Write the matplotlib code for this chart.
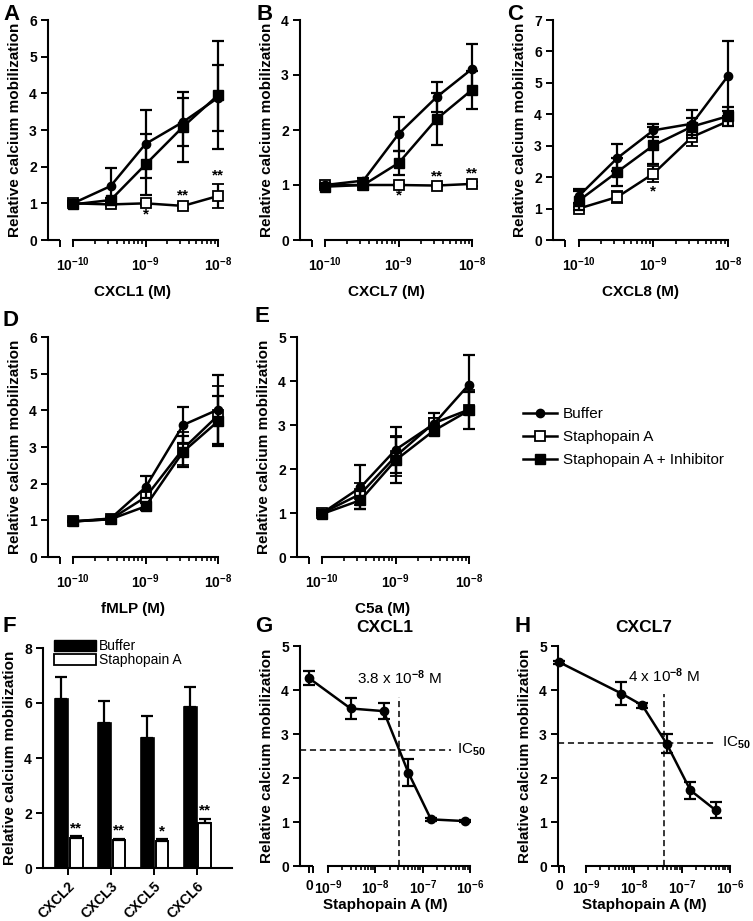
import numpy as np
import matplotlib
matplotlib.use('Agg')
import matplotlib.pyplot as plt
from matplotlib.lines import Line2D
from matplotlib.patches import Patch
from matplotlib.ticker import FixedLocator

plt.rcParams.update({
    'font.family': ['Liberation Sans', 'DejaVu Sans'],
    'font.weight': 'bold',
    'axes.labelweight': 'bold',
    'axes.titleweight': 'bold',
    'mathtext.fontset': 'custom',
    'mathtext.rm': 'Liberation Sans:bold',
    'mathtext.bf': 'Liberation Sans:bold',
    'mathtext.it': 'Liberation Sans:bold:italic',
    'mathtext.sf': 'Liberation Sans',
    'mathtext.default': 'rm',
    'axes.linewidth': 1.5,
})

# ---------------- data ----------------
conc = [1e-10, 3.3e-10, 1e-9, 3.3e-9, 1e-8]
series_names = ['Buffer', 'Staphopain A', 'Staphopain A + Inhibitor']

a_buf = [1.0, 1.47, 2.62, 3.22, 3.88]
a_buf_err = [0.05, 0.5, 0.92, 0.65, 0.9]
a_sta = [1.0, 0.97, 1.0, 0.93, 1.2]
a_sta_err = [0.03, 0.04, 0.05, 0.05, 0.33]
a_inh = [0.97, 1.09, 2.06, 3.09, 3.95]
a_inh_err = [0.03, 0.06, 0.84, 0.95, 1.48]

b_buf = [1.0, 1.08, 1.93, 2.6, 3.11]
b_buf_err = [0.02, 0.04, 0.31, 0.28, 0.46]
b_sta = [1.0, 1.0, 1.0, 0.99, 1.02]
b_sta_err = [0.02, 0.02, 0.02, 0.02, 0.03]
b_inh = [0.97, 1.0, 1.4, 2.2, 2.73]
b_inh_err = [0.02, 0.03, 0.21, 0.47, 0.34]

c_buf = [1.4, 2.61, 3.49, 3.7, 5.22]
c_buf_err = [0.22, 0.43, 0.2, 0.45, 1.1]
c_sta = [1.0, 1.37, 2.11, 3.28, 3.78]
c_sta_err = [0.05, 0.2, 0.25, 0.3, 0.15]
c_inh = [1.25, 2.17, 3.01, 3.61, 3.94]
c_inh_err = [0.3, 0.45, 0.6, 0.28, 0.3]

d_buf = [0.97, 1.05, 1.9, 3.6, 4.02]
d_buf_err = [0.02, 0.03, 0.3, 0.5, 0.95]
d_sta = [0.97, 1.03, 1.63, 2.95, 3.86]
d_sta_err = [0.02, 0.03, 0.15, 0.45, 0.8]
d_inh = [0.97, 1.03, 1.38, 2.87, 3.7]
d_inh_err = [0.02, 0.03, 0.1, 0.42, 0.68]

e_buf = [1.0, 1.58, 2.44, 3.02, 3.92]
e_buf_err = [0.02, 0.5, 0.52, 0.25, 0.68]
e_sta = [1.0, 1.43, 2.29, 3.04, 3.35]
e_sta_err = [0.02, 0.25, 0.45, 0.12, 0.45]
e_inh = [0.98, 1.29, 2.2, 2.87, 3.33]
e_inh_err = [0.02, 0.2, 0.52, 0.1, 0.42]

f_cats = ['CXCL2', 'CXCL3', 'CXCL5', 'CXCL6']
f_buf = [6.15, 5.28, 4.72, 5.87]
f_buf_err = [0.8, 0.78, 0.8, 0.72]
f_sta = [1.1, 1.02, 1.0, 1.62]
f_sta_err = [0.05, 0.03, 0.04, 0.15]
f_stars = ['**', '**', '*', '**']

g_x = [0, 3e-9, 1.5e-8, 5e-8, 1.5e-7, 8e-7]
g_y = [4.27, 3.58, 3.52, 2.12, 1.06, 1.02]
g_err = [0.16, 0.23, 0.18, 0.31, 0.03, 0.03]
g_ic50_x, g_ic50_y = 3.2e-8, 2.63
g_label = r'3.8 x 10$^{\mathsf{-8}}$ M'

h_x = [0, 5.5e-9, 1.5e-8, 4.8e-8, 1.5e-7, 5e-7]
h_y = [4.63, 3.92, 3.65, 2.78, 1.72, 1.27]
h_err = [0.03, 0.26, 0.06, 0.21, 0.2, 0.18]
h_ic50_x, h_ic50_y = 4.3e-8, 2.8
h_label = r'4 x 10$^{\mathsf{-8}}$ M'

# ---------------- figure ----------------
W, H = 753, 921
fig = plt.figure(figsize=(W / 100, H / 100), dpi=100)
TICK_FS = 10
LABEL_FS = 11


def add_ax(left, top, width, height=220):
    ax = fig.add_axes([left / W, 1 - (top + height) / H, width / W, height / H])
    ax.spines['top'].set_visible(False)
    ax.spines['right'].set_visible(False)
    ax.tick_params(axis='both', which='major', direction='out', width=1.4, length=5,
                   labelsize=TICK_FS, pad=3)
    ax.tick_params(axis='both', which='minor', direction='out', width=1.2, length=3)
    return ax


styles = {
    'Buffer': dict(marker='o', ms=6, mfc='k', mec='k', zorder=4),
    'Staphopain A': dict(marker='s', ms=7, mfc='white', mec='k', mew=1.3, zorder=3),
    'Staphopain A + Inhibitor': dict(marker='s', ms=6.5, mfc='k', mec='k', zorder=5),
}
YLABEL = 'Relative calcium mobilization'


def no_clip(container):
    for art in container.get_children():
        art.set_clip_on(False)


def star(ax, x, y, txt, above=True):
    ax.annotate(txt, (x, y), xytext=(0, 1 if above else -2), textcoords='offset points',
                ha='center', va='bottom' if above else 'top', fontsize=11,
                fontweight='bold', annotation_clip=False)


LOG_LEFT = 10 ** -10.345
SHORT_END = 10 ** -10.18


def dose_panel(ax, data, ymax, xlabel, stars_spec):
    for name, (vals, errs) in zip(series_names, data):
        c = ax.errorbar(conc, vals, yerr=errs, color='k', lw=1.8, elinewidth=1.6,
                        capsize=4, capthick=1.6, **styles[name])
        no_clip(c)
    ax.set_xscale('log')
    ax.set_xlim(LOG_LEFT, 1e-8)
    ax.set_ylim(0, ymax)
    ax.set_yticks(range(ymax + 1))
    ax.spines['bottom'].set_bounds(1e-10, 1e-8)
    ax.plot([LOG_LEFT, SHORT_END], [0, 0], color='k', lw=1.5, clip_on=False,
            transform=ax.get_xaxis_transform(), solid_capstyle='butt')
    ax.xaxis.set_major_locator(FixedLocator([SHORT_END, 1e-10, 1e-9, 1e-8]))
    ax.set_xticklabels(['', r'$10^{-10}$', r'$10^{-9}$', r'$10^{-8}$'])
    minors = [k * 10.0 ** n for n in (-10, -9) for k in range(2, 10)]
    ax.xaxis.set_minor_locator(FixedLocator(minors))
    ax.xaxis.set_minor_formatter(plt.NullFormatter())
    ax.tick_params(axis='x', which='major', pad=6)
    ax.set_xlabel(xlabel, fontsize=LABEL_FS, labelpad=8)
    ax.set_ylabel(YLABEL, fontsize=LABEL_FS, labelpad=5)
    sta_vals, sta_errs = data[1]
    for idx, txt, above in stars_spec:
        if above:
            star(ax, conc[idx], sta_vals[idx] + sta_errs[idx], txt, True)
        else:
            star(ax, conc[idx], sta_vals[idx] - sta_errs[idx], txt, False)


axA = add_ax(48, 20, 170)
dose_panel(axA, [(a_buf, a_buf_err), (a_sta, a_sta_err), (a_inh, a_inh_err)], 6, 'CXCL1 (M)',
           [(2, '*', False), (3, '**', True), (4, '**', True)])
axB = add_ax(300, 20, 172)
dose_panel(axB, [(b_buf, b_buf_err), (b_sta, b_sta_err), (b_inh, b_inh_err)], 4, 'CXCL7 (M)',
           [(2, '*', False), (3, '**', True), (4, '**', True)])
axC = add_ax(553, 20, 175)
dose_panel(axC, [(c_buf, c_buf_err), (c_sta, c_sta_err), (c_inh, c_inh_err)], 7, 'CXCL8 (M)',
           [(2, '*', False)])
axD = add_ax(48, 337, 170)
dose_panel(axD, [(d_buf, d_buf_err), (d_sta, d_sta_err), (d_inh, d_inh_err)], 6, 'fMLP (M)', [])
axE = add_ax(297, 337, 172)
dose_panel(axE, [(e_buf, e_buf_err), (e_sta, e_sta_err), (e_inh, e_inh_err)], 5, 'C5a (M)', [])

handles = [Line2D([], [], color='k', lw=1.8, **{k: v for k, v in styles[n].items() if k != 'zorder'})
           for n in series_names]
fig.legend(handles, series_names, loc='upper left', bbox_to_anchor=(517 / W, 1 - 401 / H),
           frameon=False, prop={'weight': 'normal', 'size': 11}, handlelength=2.2,
           handletextpad=0.4, labelspacing=0.6, borderaxespad=0)

# ---------------- F ----------------
axF = add_ax(43, 648, 189)
xf = np.arange(len(f_cats))
ekw = dict(elinewidth=1.6, capsize=4, capthick=1.6, ecolor='k')
axF.bar(xf - 0.15, f_buf, 0.3, color='k', edgecolor='k', lw=1.2,
        yerr=[np.zeros(len(f_buf)), f_buf_err], error_kw=ekw, label='Buffer')
axF.bar(xf + 0.19, f_sta, 0.3, color='white', edgecolor='k', lw=1.4,
        yerr=[np.zeros(len(f_sta)), f_sta_err], error_kw=ekw, label='Staphopain A')
for i, s in enumerate(f_stars):
    star(axF, xf[i] + 0.19, f_sta[i] + f_sta_err[i], s, True)
axF.set_xlim(-0.58, 3.82)
axF.set_ylim(0, 8)
axF.set_yticks([0, 2, 4, 6, 8])
axF.set_xticks(xf)
axF.set_xticklabels(f_cats, rotation=45, ha='right', rotation_mode='anchor', fontsize=TICK_FS)
axF.set_ylabel(YLABEL, fontsize=LABEL_FS, labelpad=5)
axF.legend(handles=[Patch(facecolor='k', edgecolor='k'), Patch(facecolor='white', edgecolor='k', lw=1.3)],
           labels=['Buffer', 'Staphopain A'], loc='upper left', bbox_to_anchor=(0.06, 1.04),
           frameon=False, prop={'weight': 'normal', 'size': 10}, handlelength=3.0,
           handleheight=0.85, handletextpad=0.2, labelspacing=0.0, borderaxespad=0, borderpad=0)


# ---------------- G / H ----------------
def make_scale(z0):
    def fwd(x):
        x = np.asarray(x, dtype=float)
        safe = np.where(x > 0, x, 1.0)
        return np.where(x > 0, np.log10(safe), z0 + x)

    def inv(y):
        y = np.asarray(y, dtype=float)
        return np.where(y > z0, 10.0 ** np.minimum(y, 50), y - z0)
    return fwd, inv


def ic50_panel(ax, xs, ys, errs, ic_x, ic_y, label, title, z0, left_pos, ic_line_end, ic_top,
               label_y, ic_text_x):
    ax.set_xscale('function', functions=make_scale(z0))
    c = ax.errorbar(xs, ys, yerr=errs, color='k', lw=1.8, elinewidth=1.6, capsize=4.5,
                    capthick=1.6, marker='o', ms=6, mfc='k', mec='k', zorder=4)
    no_clip(c)
    left = left_pos - z0
    ax.set_xlim(left, 1e-6)
    ax.set_ylim(0, 5)
    ax.set_yticks(range(6))
    short_end = 10 ** (z0 + 0.09)
    ax.spines['bottom'].set_bounds(1e-9, 1e-6)
    ax.plot([left, short_end], [0, 0], color='k', lw=1.5, clip_on=False,
            transform=ax.get_xaxis_transform(), solid_capstyle='butt')
    ax.xaxis.set_major_locator(FixedLocator([0, short_end, 1e-9, 1e-8, 1e-7, 1e-6]))
    ax.set_xticklabels(['0', '', r'$10^{-9}$', r'$10^{-8}$', r'$10^{-7}$', r'$10^{-6}$'])
    minors = [k * 10.0 ** n for n in (-9, -8, -7) for k in range(2, 10)]
    ax.xaxis.set_minor_locator(FixedLocator(minors))
    ax.xaxis.set_minor_formatter(plt.NullFormatter())
    ax.tick_params(axis='x', which='major', pad=4)
    ax.vlines(ic_x, 0, ic_top, colors='k', lw=1.1, linestyles=(0, (4, 2.5)), zorder=2)
    ax.hlines(ic_y, left, ic_line_end, colors='k', lw=1.1, linestyles=(0, (4, 2.5)), zorder=2,
              clip_on=False)
    ax.text(ic_text_x, ic_y, r'IC$_{\mathsf{50}}$', fontsize=11, fontweight='normal',
            va='center', ha='left', clip_on=False)
    ax.text(ic_x, label_y, label, fontsize=11, fontweight='normal', ha='center', va='center')
    ax.set_title(title, fontsize=12.5, pad=10)
    ax.set_xlabel('Staphopain A (M)', fontsize=LABEL_FS, labelpad=1)
    ax.set_ylabel(YLABEL, fontsize=LABEL_FS, labelpad=5)


axG = add_ax(300, 646, 170)
ic50_panel(axG, g_x, g_y, g_err, g_ic50_x, g_ic50_y, g_label, 'CXCL1',
           z0=-9.40, left_pos=-9.59, ic_line_end=4e-7, ic_top=3.85, label_y=4.28, ic_text_x=5.4e-7)
axH = add_ax(558, 646, 172)
ic50_panel(axH, h_x, h_y, h_err, h_ic50_x, h_ic50_y, h_label, 'CXCL7',
           z0=-9.55, left_pos=-9.58, ic_line_end=5.2e-7, ic_top=3.9, label_y=4.32, ic_text_x=6.8e-7)

# panel letters
for letter, x, y in [('A', 3, 14), ('B', 257, 14), ('C', 507, 14), ('D', 3, 321),
                     ('E', 255, 316), ('F', 3, 626), ('G', 255, 626), ('H', 515, 626)]:
    fig.text(x / W, 1 - y / H, letter, fontsize=16, fontweight='bold', va='center', ha='left')

fig.savefig('out.png', dpi=100)
